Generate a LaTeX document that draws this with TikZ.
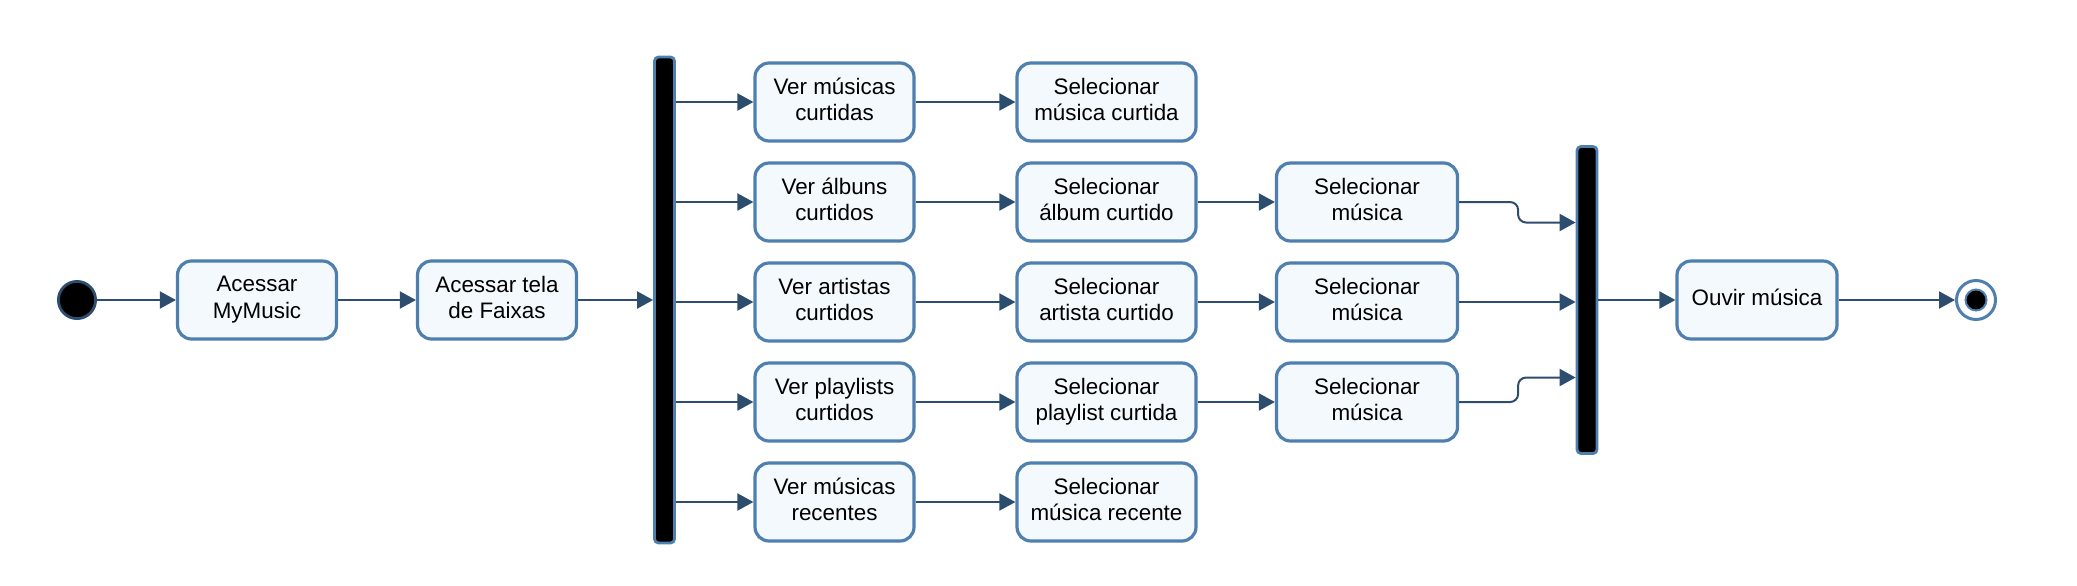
\documentclass[tikz,border=0pt]{standalone}
\usepackage{fontspec}
\setmainfont{Liberation Sans}
\usetikzlibrary{arrows.meta}
\definecolor{borda}{HTML}{4F7FAF}
\definecolor{seta}{HTML}{2C4D6E}
\definecolor{fundo}{HTML}{F3F9FD}
\tikzset{
  acao/.style={draw=borda,fill=fundo,line width=1.6pt,rounded corners=7pt,align=center,
    minimum height=39pt,inner sep=0pt,text depth=2.6pt,font=\fontsize{11.2}{13.3}\selectfont},
  barra/.style={draw=borda,fill=black,line width=1.4pt,rounded corners=2pt,inner sep=0pt},
}
\begin{document}
\begin{tikzpicture}[x=0.5pt,y=-0.5pt,->,>={Triangle[length=8pt,width=8.5pt]},line width=1pt,draw=seta]
\useasboundingbox (0,0) rectangle (2077,585);
\node[circle,draw=seta,fill=black,line width=1.4pt,minimum size=18.6pt,inner sep=0pt] (ini) at (77,300) {};
\node[acao,minimum width=79.5pt] (a1) at (257,300) {Acessar\\MyMusic};
\node[acao,minimum width=79.5pt] (a2) at (497,300) {Acessar tela\\de Faixas};
\node[barra,minimum width=10pt,minimum height=243pt] (fork) at (664.5,300) {};

\node[acao,minimum width=79.5pt] (v1) at (834.5,102) {Ver músicas\\curtidas};
\node[acao,minimum width=79.5pt] (v2) at (834.5,202) {Ver álbuns\\curtidos};
\node[acao,minimum width=79.5pt] (v3) at (834.5,302) {Ver artistas\\curtidos};
\node[acao,minimum width=79.5pt] (v4) at (834.5,402) {Ver playlists\\curtidos};
\node[acao,minimum width=79.5pt] (v5) at (834.5,502) {Ver músicas\\recentes};

\node[acao,minimum width=89.5pt] (s1) at (1106.5,102) {Selecionar\\música curtida};
\node[acao,minimum width=89.5pt] (s2) at (1106.5,202) {Selecionar\\álbum curtido};
\node[acao,minimum width=89.5pt] (s3) at (1106.5,302) {Selecionar\\artista curtido};
\node[acao,minimum width=89.5pt] (s4) at (1106.5,402) {Selecionar\\playlist curtida};
\node[acao,minimum width=89.5pt] (s5) at (1106.5,502) {Selecionar\\música recente};

\node[acao,minimum width=90.5pt] (m2) at (1367,202) {Selecionar\\música};
\node[acao,minimum width=90.5pt] (m3) at (1367,302) {Selecionar\\música};
\node[acao,minimum width=90.5pt] (m4) at (1367,402) {Selecionar\\música};

\node[barra,minimum width=10pt,minimum height=153.5pt] (join) at (1587,300) {};
\node[acao,minimum width=80pt] (ouvir) at (1757,300) {Ouvir música};
\node[circle,draw=borda,fill=white,line width=1.5pt,minimum size=19.5pt,inner sep=0pt] (fim) at (1976,300) {};
\node[circle,draw=borda,fill=black,line width=1pt,minimum size=10.5pt,inner sep=0pt] (fimc) at (fim) {};

\path (ini) edge (a1) (a1) edge (a2) (a2) edge (fork);
\path (fork.east |- v1) edge (v1) (fork.east |- v2) edge (v2) (fork.east |- v3) edge (v3)
  (fork.east |- v4) edge (v4) (fork.east |- v5) edge (v5);
\path (v1) edge (s1) (v2) edge (s2) (v3) edge (s3) (v4) edge (s4) (v5) edge (s5);
\path (s2) edge (m2) (s3) edge (m3) (s4) edge (m4);

\draw[rounded corners=4pt] (m2.east) -- ++(59,0) |- ([yshift=38.75pt]join.west);
\draw (m3.east) -- (join.west |- m3);
\draw[rounded corners=4pt] (m4.east) -- ++(59,0) |- ([yshift=-38.75pt]join.west);

\path (join) edge (ouvir) (ouvir) edge (fim);
\end{tikzpicture}
\end{document}
